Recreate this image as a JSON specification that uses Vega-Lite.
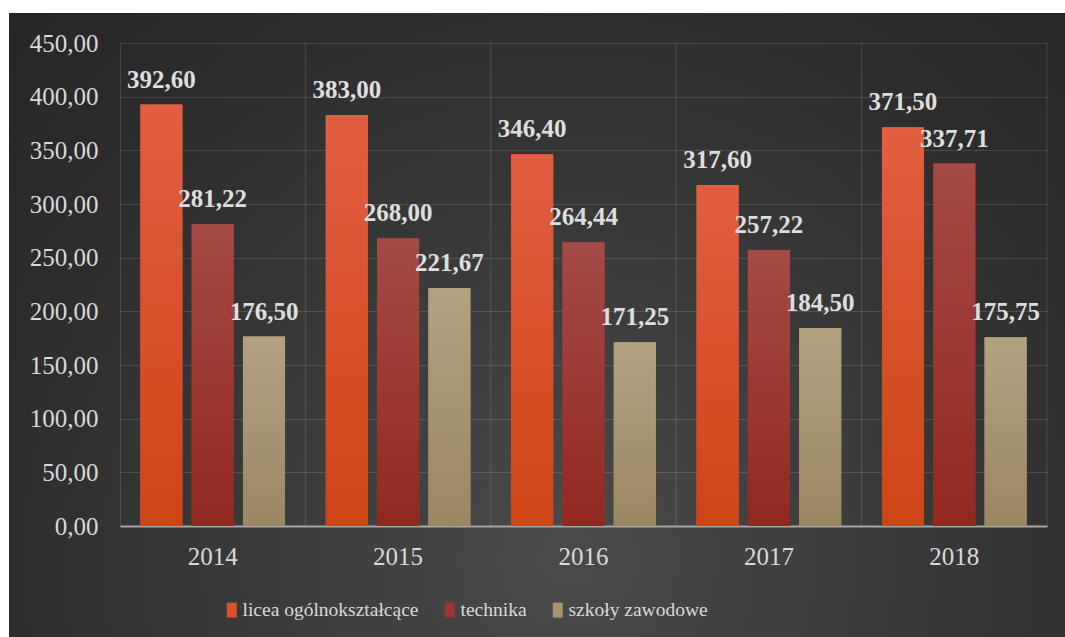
{
  "$schema": "https://vega.github.io/schema/vega-lite/v6.json",
  "width": 1056,
  "height": 624,
  "autosize": {"type": "none"},
  "padding": {"left": 9, "top": 13, "right": 0, "bottom": 0},
  "background": "#ffffff",
  "config": {
    "locale": {"number": {"decimal": ",", "thousands": " ", "grouping": [3], "currency": ["", ""]}},
    "view": {
      "stroke": null,
      "fill": {
        "gradient": "radial",
        "x1": 0.53, "y1": 0.72, "r1": 0,
        "x2": 0.53, "y2": 0.72, "r2": 0.75,
        "stops": [
          {"offset": 0, "color": "#4a4a4a"},
          {"offset": 0.45, "color": "#383838"},
          {"offset": 0.75, "color": "#2c2c2c"},
          {"offset": 1, "color": "#262626"}
        ]
      }
    },
    "font": "Liberation Serif",
    "axis": {
      "labelFont": "Liberation Serif",
      "labelFontSize": 25,
      "labelColor": "#d9d9d9",
      "gridColor": "#ffffff",
      "gridOpacity": 0.13,
      "gridWidth": 1,
      "ticks": false
    },
    "legend": {
      "labelFont": "Liberation Serif",
      "labelFontSize": 19.5,
      "labelColor": "#d9d9d9",
      "labelLimit": 0
    }
  },
  "data": {
    "values": [
      {"year": "2014", "type": "licea ogólnokształcące", "value": 392.60},
      {"year": "2014", "type": "technika", "value": 281.22},
      {"year": "2014", "type": "szkoły zawodowe", "value": 176.50},
      {"year": "2015", "type": "licea ogólnokształcące", "value": 383.00},
      {"year": "2015", "type": "technika", "value": 268.00},
      {"year": "2015", "type": "szkoły zawodowe", "value": 221.67},
      {"year": "2016", "type": "licea ogólnokształcące", "value": 346.40},
      {"year": "2016", "type": "technika", "value": 264.44},
      {"year": "2016", "type": "szkoły zawodowe", "value": 171.25},
      {"year": "2017", "type": "licea ogólnokształcące", "value": 317.60},
      {"year": "2017", "type": "technika", "value": 257.22},
      {"year": "2017", "type": "szkoły zawodowe", "value": 184.50},
      {"year": "2018", "type": "licea ogólnokształcące", "value": 371.50},
      {"year": "2018", "type": "technika", "value": 337.71},
      {"year": "2018", "type": "szkoły zawodowe", "value": 175.75}
    ]
  },
  "layer": [
    {
      "mark": {"type": "bar"},
      "encoding": {
        "x": {
          "field": "year",
          "type": "nominal",
          "scale": {"range": [111, 1038], "paddingInner": 0, "paddingOuter": 0},
          "axis": {
            "orient": "bottom",
            "offset": -111,
            "title": null,
            "labelAngle": 0,
            "labelAlign": "center",
            "labelBaseline": "top",
            "grid": false,
            "domain": true,
            "domainColor": "#a6a6a6",
            "domainWidth": 2,
            "labelPadding": 18
          }
        },
        "xOffset": {
          "field": "type",
          "type": "nominal",
          "sort": ["licea ogólnokształcące", "technika", "szkoły zawodowe"],
          "scale": {"paddingInner": 0.18, "paddingOuter": 0.397}
        },
        "y": {
          "field": "value",
          "type": "quantitative",
          "scale": {"domain": [0, 450], "range": [513, 30], "nice": false, "zero": true},
          "axis": {
            "orient": "left",
            "offset": -111,
            "title": null,
            "values": [0, 50, 100, 150, 200, 250, 300, 350, 400, 450],
            "format": ".2f",
            "grid": true,
            "domain": true,
            "domainColor": "#ffffff",
            "domainOpacity": 0.13,
            "domainWidth": 1,
            "labelPadding": 22
          }
        },
        "fill": {
          "field": "type",
          "type": "nominal",
          "scale": {
            "domain": ["licea ogólnokształcące", "technika", "szkoły zawodowe"],
            "range": ["#d8532c", "#9a3430", "#a8946f"]
          },
          "legend": {
            "orient": "none",
            "direction": "horizontal",
            "legendX": 213,
            "legendY": 587,
            "title": null,
            "padding": 0,
            "symbolType": "M-0.667,-1H0.667V1H-0.667Z",
            "symbolSize": 225,
            "symbolStrokeWidth": 0,
            "labelOffset": 1,
            "columnPadding": 21
          }
        }
      }
    },
    {
      "mark": {"type": "bar"},
      "encoding": {
        "x": {"field": "year", "type": "nominal"},
        "xOffset": {"field": "type", "type": "nominal", "sort": ["licea ogólnokształcące", "technika", "szkoły zawodowe"]},
        "y": {"field": "value", "type": "quantitative"},
        "fill": {
          "condition": [
            {
              "test": "datum.type === 'licea ogólnokształcące'",
              "value": {"gradient": "linear", "x1": 0, "y1": 0, "x2": 0, "y2": 1,
                "stops": [{"offset": 0, "color": "#e15e40"}, {"offset": 1, "color": "#cd4516"}]}
            },
            {
              "test": "datum.type === 'technika'",
              "value": {"gradient": "linear", "x1": 0, "y1": 0, "x2": 0, "y2": 1,
                "stops": [{"offset": 0, "color": "#a54a45"}, {"offset": 1, "color": "#91281d"}]}
            }
          ],
          "value": {"gradient": "linear", "x1": 0, "y1": 0, "x2": 0, "y2": 1,
            "stops": [{"offset": 0, "color": "#b4a180"}, {"offset": 1, "color": "#9b8761"}]}
        }
      }
    },
    {
      "transform": [{"filter": "datum.type === 'technika'"}],
      "mark": {"type": "rule", "stroke": "#ffffff", "strokeOpacity": 0.13, "strokeWidth": 1},
      "encoding": {
        "x": {
          "field": "year",
          "type": "nominal",
          "bandPosition": 1,
          "axis": {
            "orient": "bottom",
            "offset": -111,
            "title": null,
            "labelAngle": 0,
            "labelAlign": "center",
            "labelBaseline": "top",
            "grid": false,
            "domain": true,
            "domainColor": "#a6a6a6",
            "domainWidth": 2,
            "labelPadding": 18
          }
        },
        "y": {"datum": 0, "type": "quantitative", "axis": {"title": null}},
        "y2": {"datum": 450}
      }
    },
    {
      "mark": {
        "type": "text",
        "baseline": "alphabetic",
        "align": "center",
        "dy": -17,
        "font": "Liberation Serif",
        "fontSize": 25,
        "fontWeight": "bold",
        "fill": "#dedede"
      },
      "encoding": {
        "x": {"field": "year", "type": "nominal"},
        "xOffset": {"field": "type", "type": "nominal", "sort": ["licea ogólnokształcące", "technika", "szkoły zawodowe"]},
        "y": {"field": "value", "type": "quantitative"},
        "text": {"field": "value", "type": "quantitative", "format": ".2f"}
      }
    }
  ]
}
